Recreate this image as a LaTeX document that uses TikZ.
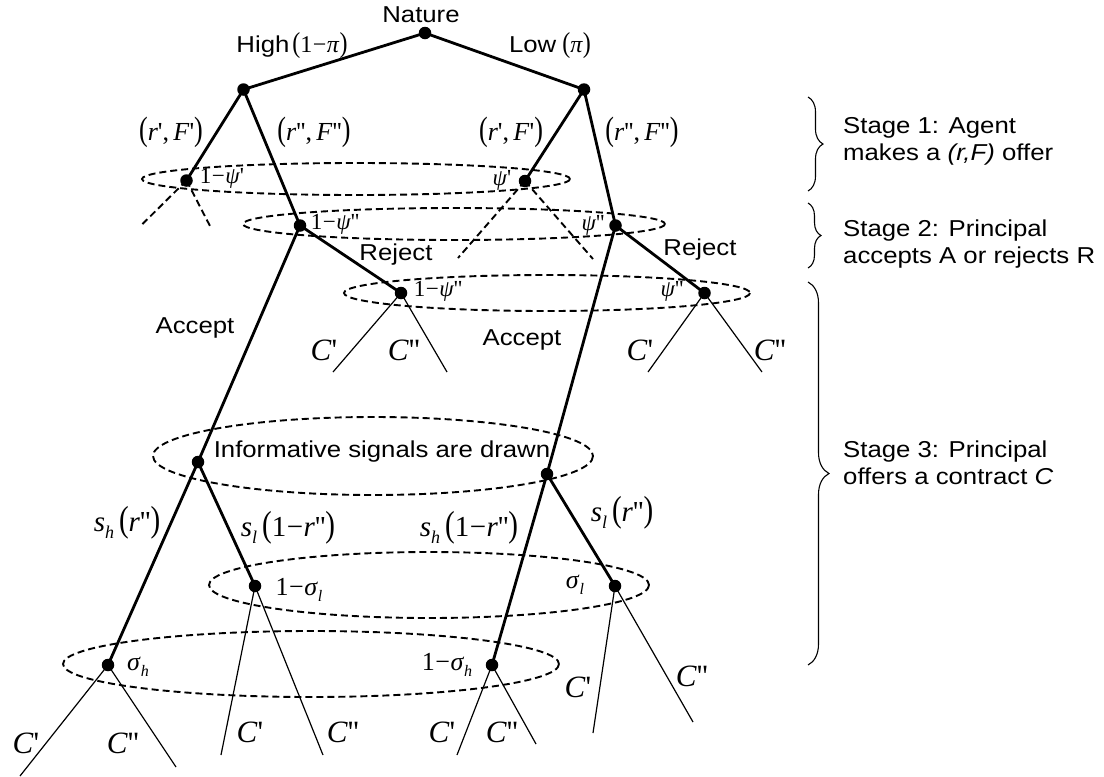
\documentclass[tikz,border=0pt]{standalone}
\usepackage{fontspec}
\usepackage{graphicx}
\usetikzlibrary{decorations.pathreplacing}
\newfontfamily\lsans[FakeStretch=1.12]{Liberation Sans}
\newfontfamily\lser{Liberation Serif}
\newcommand\fs[1]{\fontsize{#1}{#1}\selectfont}
\newcommand\sbx[2]{\raisebox{-0.25em}{\fs{#1}\itshape #2}}
\newcommand\bp[2]{\scalebox{1}[#1]{#2}}
\newcommand\mn{\kern0.5pt−\kern0.5pt}
\newcommand\rF[2]{\bp{1.3}{(}\textit{r}#1,\,\textit{F}#2\bp{1.3}{)}}
\tikzset{
  dot/.style={circle, fill=black, inner sep=0pt, minimum size=12.5pt},
  thickln/.style={line width=2.8pt},
  thinln/.style={line width=1.2pt},
  dashln/.style={line width=1.9pt, dash pattern=on 7pt off 4pt},
  infoset/.style={draw, line width=1.9pt, dash pattern=on 7pt off 4pt},
  sanslbl/.style={font=\lsans\fs{23}, inner sep=0pt},
  psilbl/.style={font=\lser\fs{23}, inner sep=0pt},
  rflbl/.style={font=\lser\fs{26}, inner sep=0pt},
  slbl/.style={font=\lser\fs{29}, inner sep=0pt},
  siglbl/.style={font=\lser\fs{26}, inner sep=0pt},
  clbl/.style={font=\lser\fs{31}, inner sep=0pt},
  stagelbl/.style={font=\lsans\fontsize{23}{27}\selectfont, align=left, anchor=west, inner sep=0pt},
  brc/.style={decorate, decoration={brace, amplitude=#1}, line width=1.1pt}
}
\begin{document}
\begin{tikzpicture}[x=1pt, y=-1pt]
\useasboundingbox (0,0) rectangle (1104,777);

% information sets
\draw[infoset] (356,179) ellipse [x radius=214, y radius=16];
\draw[infoset] (454,224) ellipse [x radius=211, y radius=16];
\draw[infoset] (547,293) ellipse [x radius=203, y radius=18];
\draw[infoset] (373,456) ellipse [x radius=220, y radius=39];
\draw[infoset] (429,585) ellipse [x radius=220, y radius=33];
\draw[infoset] (311,664) ellipse [x radius=248, y radius=33];

% decision nodes
\node[dot] (N) at (425,33) {};
\node[dot] (L1) at (243.5,89.5) {};
\node[dot] (R1) at (584,89.5) {};
\node[dot] (A) at (186.5,180.5) {};
\node[dot] (C) at (525,181) {};
\node[dot] (B) at (300,225.5) {};
\node[dot] (D) at (615.5,225.5) {};
\node[dot] (E) at (401,293) {};
\node[dot] (G) at (704.5,293) {};
\node[dot] (F) at (198,462) {};
\node[dot] (H) at (547,474) {};
\node[dot] (I) at (108,665) {};
\node[dot] (J) at (255,586) {};
\node[dot] (K) at (492,665) {};
\node[dot] (L) at (615,586) {};

% free ends
\coordinate (a1) at (141.5,225);
\coordinate (a2) at (210,226);
\coordinate (c1) at (458,258);
\coordinate (c2) at (593,259);
\coordinate (e1) at (333,372);
\coordinate (e2) at (447,372);
\coordinate (g1) at (648,372);
\coordinate (g2) at (762,372);
\coordinate (i1) at (20,776);
\coordinate (i2) at (176,767);
\coordinate (j1) at (221,755);
\coordinate (j2) at (323,755);
\coordinate (k1) at (457,755);
\coordinate (k2) at (536,744);
\coordinate (l1) at (593,733);
\coordinate (l2) at (693,722);

% main branches
\draw[thickln] (N.center) -- (L1.center);
\draw[thickln] (N.center) -- (R1.center);
\draw[thickln] (L1.center) -- (A.center);
\draw[thickln] (L1.center) -- (B.center);
\draw[thickln] (R1.center) -- (C.center);
\draw[thickln] (R1.center) -- (D.center);
\draw[thickln] (B.center) -- (E.center);
\draw[thickln] (B.center) -- (F.center);
\draw[thickln] (D.center) -- (G.center);
\draw[thickln] (D.center) -- (H.center);
\draw[thickln] (F.center) -- (I.center);
\draw[thickln] (F.center) -- (J.center);
\draw[thickln] (H.center) -- (K.center);
\draw[thickln] (H.center) -- (L.center);

% dashed stubs
\draw[dashln] (A.center) -- (a1);
\draw[dashln] (A.center) -- (a2);
\draw[dashln] (C.center) -- (c1);
\draw[dashln] (C.center) -- (c2);

% contract leaves
\foreach \n/\p/\q in {E/e1/e2, G/g1/g2, I/i1/i2, J/j1/j2, K/k1/k2, L/l1/l2}{
  \draw[thinln] (\n.center) -- (\p);
  \draw[thinln] (\n.center) -- (\q);
}

% labels
\node[sanslbl] (tNat) at (421,15) {Nature};
\node[inner sep=0pt] (tHigh) at (292,46) {{\lsans\fs{23}High}\kern3pt{\lser\fs{24}\bp{1.2}{(}1\mn\textit{π}\bp{1.2}{)}}};
\node[inner sep=0pt] (tLow) at (550,46) {{\lsans\fs{23}Low}\kern6pt{\lser\fs{24}\bp{1.2}{(}\textit{π}\bp{1.2}{)}}};

\node[rflbl] (tr1) at (171,132) {\rF{'}{'}};
\node[rflbl] (tr2) at (314,132) {\rF{''}{''}};
\node[rflbl] (tr3) at (511,132) {\rF{'}{'}};
\node[rflbl] (tr4) at (642,132) {\rF{''}{''}};

\node[psilbl] (tpA) at (222,178) {1\mn\textit{ψ}'};
\node[psilbl] (tpC) at (502,180) {\textit{ψ}'};
\node[psilbl] (tpB) at (335,224) {1\mn\textit{ψ}''};
\node[psilbl] (tpD) at (593,225) {\textit{ψ}''};
\node[psilbl] (tpE) at (438,291) {1\mn\textit{ψ}''};
\node[psilbl] (tpG) at (672,291) {\textit{ψ}''};

\node[sanslbl] (tRej1) at (396,255) {Reject};
\node[sanslbl] (tRej2) at (700,250) {Reject};
\node[sanslbl] (tAcc1) at (195,328) {Accept};
\node[sanslbl] (tAcc2) at (522,340) {Accept};

\node[clbl] (cE1) at (324,350) {\textit{C}'};
\node[clbl] (cE2) at (404,350) {\textit{C}''};
\node[clbl] (cG1) at (640,350) {\textit{C}'};
\node[clbl] (cG2) at (770,350) {\textit{C}''};

\node[sanslbl] (tInf) at (382,452) {Informative signals are drawn};

\node[slbl] (ts1) at (127,523) {\textit{s}\sbx{18}{h}\kern5pt\bp{1.25}{(}\textit{r}''\bp{1.25}{)}};
\node[slbl] (ts2) at (288,528) {\textit{s}\sbx{18}{l}\kern5pt\bp{1.25}{(}1\mn\textit{r}''\bp{1.25}{)}};
\node[slbl] (ts3) at (469,528) {\textit{s}\sbx{18}{h}\kern5pt\bp{1.25}{(}1\mn\textit{r}''\bp{1.25}{)}};
\node[slbl] (ts4) at (622,513) {\textit{s}\sbx{18}{l}\kern5pt\bp{1.25}{(}\textit{r}''\bp{1.25}{)}};

\node[siglbl] (tsJ) at (299,590) {1\mn\textit{σ}\sbx{16}{l}};
\node[siglbl] (tsL) at (575,585) {\textit{σ}\sbx{16}{l}};
\node[siglbl] (tsI) at (138,667) {\textit{σ}\sbx{16}{h}};
\node[siglbl] (tsK) at (447,665) {1\mn\textit{σ}\sbx{16}{h}};

\node[clbl] (cI1) at (26,743) {\textit{C}'};
\node[clbl] (cI2) at (123,743) {\textit{C}''};
\node[clbl] (cJ1) at (250,732) {\textit{C}'};
\node[clbl] (cJ2) at (343,732) {\textit{C}''};
\node[clbl] (cK1) at (442,732) {\textit{C}'};
\node[clbl] (cK2) at (502,732) {\textit{C}''};
\node[clbl] (cL1) at (578,687) {\textit{C}'};
\node[clbl] (cL2) at (692,676) {\textit{C}''};

% stages
\draw[brc=15] (808,97) -- (808,191);
\draw[brc=13] (808,203) -- (808,268);
\draw[brc=21] (808,282) -- (808,665);
\node[stagelbl] (st1) at (843,141) {Stage 1: Agent\\makes a \textit{(r,F)} offer};
\node[stagelbl] (st2) at (843,244) {Stage 2: Principal\\accepts A or rejects R};
\node[stagelbl] (st3) at (843,463) {Stage 3: Principal\\offers a contract \textit{C}};
\end{tikzpicture}
\end{document}
